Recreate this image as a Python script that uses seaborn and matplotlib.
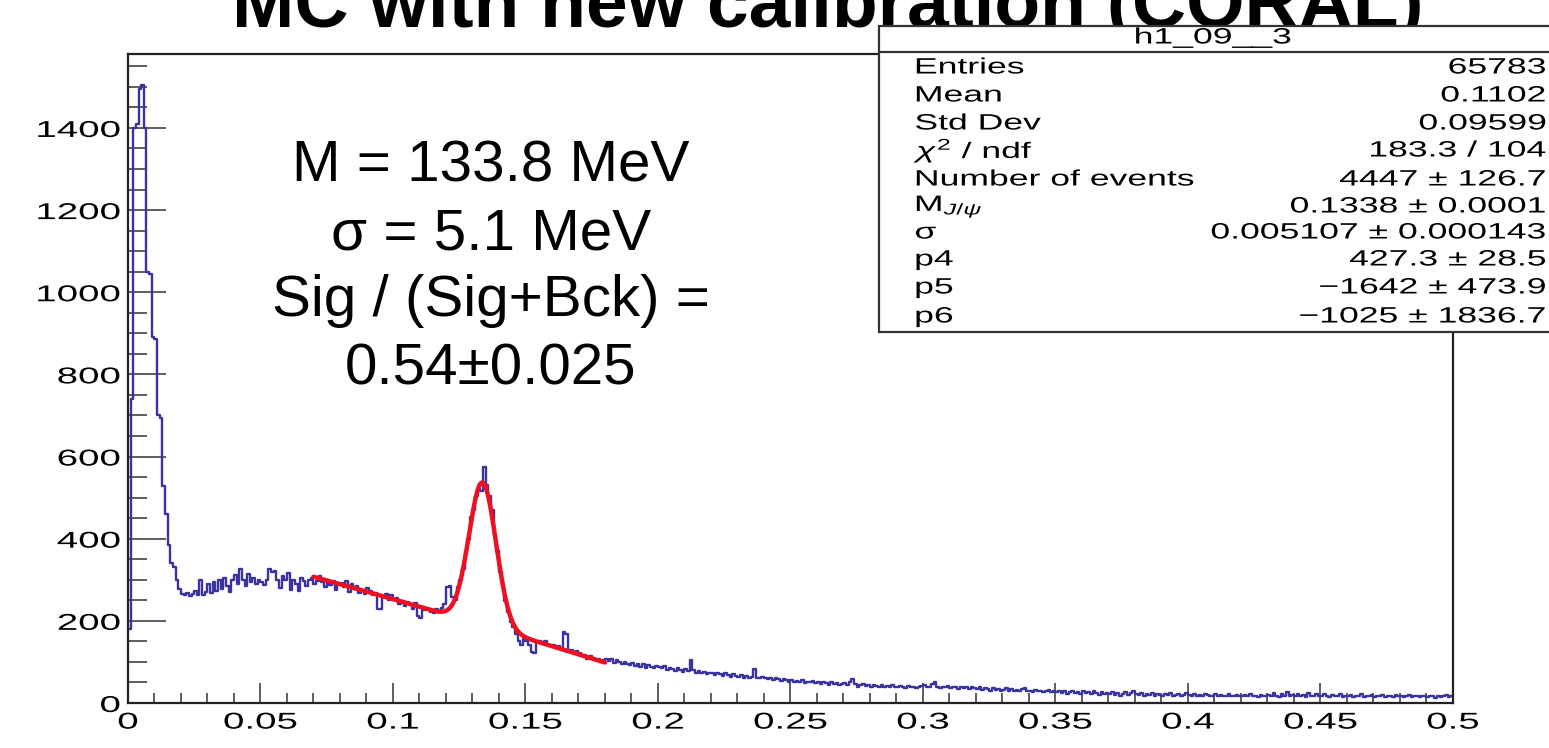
import numpy as np
import pandas as pd
import matplotlib
matplotlib.use("Agg")
import matplotlib.pyplot as plt
import seaborn as sns
from matplotlib.patches import Rectangle
from matplotlib.lines import Line2D
from matplotlib.patheffects import AbstractPathEffect
from matplotlib.transforms import Affine2D
from matplotlib.ticker import MultipleLocator, FixedLocator, FixedFormatter

# ---------------------------------------------------------------------------
# Diphoton invariant mass spectrum, 1 MeV bins from 0 to 0.5 GeV
# ---------------------------------------------------------------------------
counts_000_050 = [180, 740, 1400, 1410, 1495, 1505, 1400, 1050, 1045, 890,
                  885, 700, 695, 528, 460, 385, 340, 330, 300, 278,
                  265, 262, 268, 260, 266, 272, 264, 300, 262, 270,
                  290, 268, 295, 272, 300, 278, 305, 285, 270, 300,
                  312, 290, 325, 300, 285, 315, 295, 305, 290, 300]
counts_050_100 = [295, 288, 300, 325, 318, 322, 300, 280, 310, 300,
                  316, 275, 300, 290, 272, 305, 298, 285, 300, 304,
                  290, 298, 310, 294, 282, 300, 288, 296, 276, 290,
                  292, 282, 296, 270, 290, 278, 284, 268, 276, 265,
                  280, 272, 262, 268, 230, 228, 258, 266, 250, 262]
counts_100_150 = [250, 256, 240, 248, 236, 246, 238, 230, 244, 212,
                  208, 226, 232, 228, 222, 218, 230, 225, 232, 240,
                  282, 284, 258, 250, 282, 300, 325, 370, 398, 452,
                  470, 505, 520, 515, 575, 530, 505, 470, 410, 370,
                  318, 290, 248, 222, 196, 185, 168, 150, 142, 156]
counts_150_200 = [150, 142, 124, 122, 148, 150, 145, 152, 140, 138,
                  142, 135, 138, 132, 172, 168, 130, 128, 124, 126,
                  122, 116, 118, 108, 114, 110, 104, 108, 100, 104,
                  108, 102, 106, 98, 104, 100, 94, 100, 96, 92,
                  98, 90, 94, 88, 96, 86, 92, 88, 84, 90]
counts_200_250 = [88, 84, 90, 80, 86, 82, 78, 84, 80, 76,
                  82, 78, 104, 80, 74, 78, 72, 76, 70, 74,
                  72, 68, 74, 70, 66, 72, 68, 64, 70, 66,
                  64, 68, 62, 66, 60, 64, 82, 62, 60, 64,
                  60, 58, 62, 56, 60, 58, 54, 58, 56, 52]
counts_250_300 = [56, 52, 54, 50, 55, 48, 52, 50, 54, 48,
                  50, 46, 52, 48, 44, 50, 46, 48, 44, 46,
                  48, 44, 50, 58, 46, 40, 44, 46, 42, 44,
                  40, 44, 42, 38, 44, 40, 42, 38, 44, 40,
                  38, 42, 40, 36, 42, 38, 40, 36, 38, 42]
counts_300_350 = [44, 38, 40, 46, 50, 40, 36, 40, 38, 42,
                  36, 40, 38, 34, 40, 36, 38, 34, 38, 36,
                  34, 38, 32, 36, 34, 30, 36, 32, 34, 30,
                  32, 36, 30, 34, 28, 32, 30, 34, 36, 30,
                  30, 26, 32, 28, 30, 26, 28, 32, 26, 28]
counts_350_400 = [26, 30, 24, 28, 22, 26, 30, 24, 26, 22,
                  28, 24, 26, 22, 30, 24, 20, 26, 22, 24,
                  22, 26, 20, 24, 18, 22, 26, 20, 24, 30,
                  22, 20, 24, 18, 22, 20, 24, 18, 22, 20,
                  18, 22, 20, 24, 18, 20, 22, 18, 20, 24]
counts_400_450 = [20, 18, 22, 16, 20, 18, 22, 20, 16, 18,
                  22, 18, 20, 16, 18, 22, 18, 16, 20, 18,
                  16, 20, 18, 22, 16, 18, 14, 20, 18, 16,
                  20, 16, 24, 18, 14, 22, 18, 26, 16, 20,
                  18, 22, 16, 20, 14, 24, 18, 16, 22, 18]
counts_450_500 = [16, 22, 18, 14, 20, 16, 18, 22, 14, 18,
                  16, 20, 14, 18, 16, 22, 14, 18, 16, 20,
                  14, 18, 16, 20, 14, 16, 18, 14, 20, 16,
                  18, 14, 16, 20, 14, 18, 16, 14, 18, 16,
                  14, 18, 16, 12, 18, 14, 16, 20, 14, 16]

# Fit result: Gaussian signal + quadratic background
n_events = 4447.0
m_peak = 0.1338
sigma = 0.005107
p4, p5, p6 = 427.3, -1642.0, -1025.0
fit_range = (0.07, 0.18)

x_ticks = [0, 0.05, 0.1, 0.15, 0.2, 0.25, 0.3, 0.35, 0.4, 0.45, 0.5]
x_tick_labels = ["0", "0.05", "0.1", "0.15", "0.2", "0.25", "0.3",
                 "0.35", "0.4", "0.45", "0.5"]
y_ticks = [0, 200, 400, 600, 800, 1000, 1200, 1400]
y_tick_labels = ["0", "200", "400", "600", "800", "1000", "1200", "1400"]

stat_title = "h1_09__3"
stat_names = ["Entries", "Mean", "Std Dev", r"$\chi^{2}$ / ndf",
              "Number of events", r"M$_{J/\psi}$", "σ", "p4", "p5", "p6"]
stat_values = ["65783", "0.1102", "0.09599", "183.3 / 104",
               "4447 ± 126.7", "0.1338 ± 0.0001",
               "0.005107 ± 0.000143", "427.3 ± 28.5",
               "−1642 ± 473.9", "−1025 ± 1836.7"]

title = "MC with new calibration (CORAL)"
fit_summary = ["M = 133.8 MeV", "σ = 5.1 MeV", "Sig / (Sig+Bck) =",
               "0.54±0.025"]


class Widen(AbstractPathEffect):
    """Draw text glyphs stretched horizontally about a left/center/right anchor."""

    def __init__(self, sx, anchor="left"):
        super().__init__()
        self.sx = sx
        self.anchor = anchor

    def draw_path(self, renderer, gc, tpath, affine, rgbFace=None):
        ext = tpath.get_extents(affine)
        if self.anchor == "left":
            x0 = ext.x0
        elif self.anchor == "right":
            x0 = ext.x1
        else:
            x0 = 0.5 * (ext.x0 + ext.x1)
        stretch = Affine2D().translate(-x0, 0).scale(self.sx, 1).translate(x0, 0)
        renderer.draw_path(gc, tpath, affine + stretch, rgbFace)


# ---------------------------------------------------------------------------
sns.set_style("ticks")
plt.rcParams["font.family"] = ["Liberation Sans", "DejaVu Sans"]
plt.rcParams["mathtext.fontset"] = "custom"
plt.rcParams["mathtext.rm"] = "Liberation Sans"
plt.rcParams["mathtext.it"] = "Liberation Sans:italic"
plt.rcParams["text.color"] = "black"

counts = np.concatenate([counts_000_050, counts_050_100, counts_100_150,
                         counts_150_200, counts_200_250, counts_250_300,
                         counts_300_350, counts_350_400, counts_400_450,
                         counts_450_500]).astype(float)
bin_w = 0.001
centers = (np.arange(len(counts)) + 0.5) * bin_w
hist_df = pd.DataFrame({"mass": centers, "entries": counts})

fig = plt.figure(figsize=(15.49, 7.48), dpi=100)
ax = fig.add_axes([0.0826, 0.0602, 0.8554, 0.8676])

sns.histplot(data=hist_df, x="mass", weights="entries", binwidth=bin_w,
             binrange=(0.0, 0.5), element="step", fill=False,
             color="#3a33a0", linewidth=1.7, ax=ax)

xf = np.linspace(fit_range[0], fit_range[1], 400)
amp = n_events * bin_w / (np.sqrt(2 * np.pi) * sigma)
yf = amp * np.exp(-0.5 * ((xf - m_peak) / sigma) ** 2) + p4 + p5 * xf + p6 * xf ** 2
sns.lineplot(x=xf, y=yf, color="#ee1020", linewidth=3.2, ax=ax)

ax.set_xlim(0, 0.5)
ax.set_ylim(0, 1580)
ax.set_xlabel("")
ax.set_ylabel("")

ax.xaxis.set_major_locator(FixedLocator(x_ticks))
ax.xaxis.set_major_formatter(FixedFormatter(x_tick_labels))
ax.xaxis.set_minor_locator(MultipleLocator(0.01))
ax.yaxis.set_major_locator(FixedLocator(y_ticks))
ax.yaxis.set_major_formatter(FixedFormatter(y_tick_labels))
ax.yaxis.set_minor_locator(MultipleLocator(50))

ax.tick_params(axis="x", which="major", direction="in", length=14.4,
               width=1.1, color="#333333", labelsize=16.5, pad=5.5,
               labelcolor="black")
ax.tick_params(axis="x", which="minor", direction="in", length=7.2,
               width=1.1, color="#333333")
ax.tick_params(axis="y", which="major", direction="in", length=27.4,
               width=1.1, color="#333333", labelsize=16.5, pad=5.5,
               labelcolor="black")
ax.tick_params(axis="y", which="minor", direction="in", length=13.7,
               width=1.1, color="#333333")
ax.tick_params(top=False, right=False, which="both")
for spine in ax.spines.values():
    spine.set_linewidth(1.6)
    spine.set_color("#222222")

for tick in ax.xaxis.get_major_ticks():
    tick.label1.set_path_effects([Widen(1.68, "center")])
for tick in ax.yaxis.get_major_ticks():
    tick.label1.set_path_effects([Widen(1.68, "right")])

# Slide title and fit summary
fig.text(0.5345, 0.9639, title, ha="center", va="baseline", fontsize=54,
         fontweight="bold", color="black")
for line, yb in zip(fit_summary, [0.758, 0.667, 0.5775, 0.4853]):
    fig.text(0.317, yb, line, ha="center", va="baseline", fontsize=42,
             color="black", zorder=6)

# Statistics box
box_l, box_b, box_t = 879 / 1549, 1 - 332 / 748, 1 - 26 / 748
fig.add_artist(Rectangle((box_l, box_b), 1.02 - box_l, box_t - box_b,
                         transform=fig.transFigure, facecolor="white",
                         edgecolor="#333333", linewidth=1.6, zorder=5))
fig.add_artist(Line2D([box_l, 1.02], [1 - 52 / 748] * 2,
                      transform=fig.transFigure, color="#333333",
                      linewidth=1.6, zorder=5))
stat_size = 16
stat_sx = 1.6
fig.text(1213 / 1549, 1 - 38 / 748, stat_title, ha="center", va="center",
         fontsize=stat_size, color="black", zorder=6,
         path_effects=[Widen(stat_sx, "center")])
row_y = [68, 96, 124, 151, 180, 207, 233, 260, 288, 317]
for name, val, yy in zip(stat_names, stat_values, row_y):
    fig.text(915 / 1549, 1 - yy / 748, name, ha="left", va="center",
             fontsize=stat_size, color="black", zorder=6,
             path_effects=[Widen(stat_sx, "left")])
    fig.text(1546 / 1549, 1 - yy / 748, val, ha="right", va="center",
             fontsize=stat_size, color="black", zorder=6,
             path_effects=[Widen(stat_sx, "right")])

fig.savefig("out.png", dpi=100)
